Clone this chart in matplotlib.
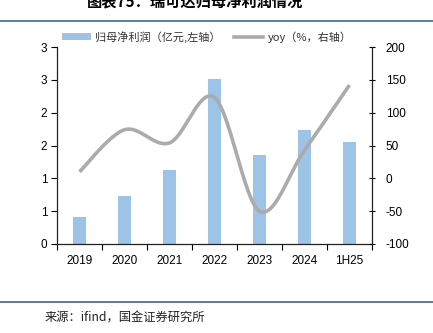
import numpy as np
import matplotlib
matplotlib.use("Agg")
import matplotlib.pyplot as plt
from matplotlib.lines import Line2D
from matplotlib.patches import Patch

categories = ["2019", "2020", "2021", "2022", "2023", "2024", "1H25"]
profit = [0.41, 0.73, 1.13, 2.51, 1.35, 1.735, 1.56]
yoy = [10, 74, 54, 123, -50, 43, 142]
left_ticks = [0, 0.5, 1.0, 1.5, 2.0, 2.5, 3.0]
left_labels = ["0", "1", "1", "2", "2", "3", "3"]
right_ticks = [-100, -50, 0, 50, 100, 150, 200]

title = "图表75：瑞可达归母净利润情况"
source = "来源：ifind，国金证券研究所"
bar_label = "归母净利润（亿元,左轴）"
line_label = "yoy（%，右轴）"

CJK = ["Noto Sans CJK SC", "DejaVu Sans"]
NUM = ["Liberation Sans", "DejaVu Sans"]

bar_color = "#9DC3E6"
line_color = "#ABABAB"
rule_color = "#3D6A86"

fig = plt.figure(figsize=(4.33, 3.33), dpi=100)
W, H = 433, 333
ax = fig.add_axes([57 / W, 1 - 244 / H, (372 - 57) / W, (244 - 47) / H])
ax2 = ax.twinx()

x = np.arange(len(categories))
ax.bar(x, profit, width=0.31, color=bar_color, zorder=2)
ax.set_xlim(-0.5, len(categories) - 0.5)
ax.set_ylim(0, 3)
ax.set_yticks(left_ticks)
ax.set_yticklabels(left_labels, fontfamily=NUM, fontsize=8.5)
ax.set_xticks(x)
ax.set_xticklabels(categories, fontfamily=NUM, fontsize=8.5)
ax.set_xticks(np.arange(-0.5, len(categories)), minor=True)
ax.tick_params(axis="x", which="major", length=0, pad=8)
ax.tick_params(axis="x", which="minor", length=4, direction="out", width=0.8)
ax.tick_params(axis="y", length=4, direction="out", width=0.8, pad=3)

# smooth line (Catmull-Rom / Excel-style smoothing through data points)
pts = np.column_stack([x, yoy]).astype(float)
n = len(pts)
curve = []
for i in range(n - 1):
    p0 = pts[i - 1] if i > 0 else pts[i]
    p1 = pts[i]
    p2 = pts[i + 1]
    p3 = pts[i + 2] if i + 2 < n else pts[i + 1]
    b1 = p1 + (p2 - p0) / 6
    b2 = p2 - (p3 - p1) / 6
    t = np.linspace(0, 1, 40)[:, None]
    seg = (1 - t) ** 3 * p1 + 3 * (1 - t) ** 2 * t * b1 + 3 * (1 - t) * t ** 2 * b2 + t ** 3 * p2
    curve.append(seg if i == 0 else seg[1:])
curve = np.vstack(curve)
ax2.plot(curve[:, 0], curve[:, 1], color=line_color, lw=2.6, solid_capstyle="butt", zorder=3)
ax2.set_ylim(-100, 200)
ax2.set_yticks(right_ticks)
ax2.set_yticklabels([str(v) for v in right_ticks], fontfamily=NUM, fontsize=8.5)
ax2.tick_params(axis="y", length=4, direction="inout", width=0.8, pad=8)

for a in (ax, ax2):
    a.spines["top"].set_visible(False)
    for s in ("left", "right", "bottom"):
        a.spines[s].set_color("#222222")
        a.spines[s].set_linewidth(0.9)
ax.spines["right"].set_visible(False)
ax2.spines["left"].set_visible(False)
ax2.spines["bottom"].set_visible(False)

handles = [Patch(facecolor=bar_color, edgecolor="none"),
           Line2D([0], [0], color=line_color, lw=2.6)]
leg = fig.legend(handles, [bar_label, line_label], loc="center left",
                 bbox_to_anchor=(52 / W, 1 - 37 / H), ncol=2, frameon=False,
                 prop={"family": CJK, "size": 8}, handlelength=2.6,
                 handleheight=0.6, handletextpad=0.4, columnspacing=1.2)
for t in leg.get_texts():
    t.set_color("#333333")

# title (cut off at top, as in the reference) and rules
fig.text(87 / W, 1 - 9 / H, title, fontfamily=CJK, fontsize=11, fontweight="bold",
         ha="left", va="bottom", style="italic")
fig.add_artist(Line2D([0, 1], [1 - 21 / H, 1 - 21 / H], color=rule_color, lw=1.2))
fig.add_artist(Line2D([0, 1], [1 - 302 / H, 1 - 302 / H], color=rule_color, lw=1.2))
fig.text(45 / W, 1 - 318 / H, source, fontfamily=CJK, fontsize=8.8, ha="left", va="center",
         color="#222222")

fig.savefig("out.png", dpi=100)
